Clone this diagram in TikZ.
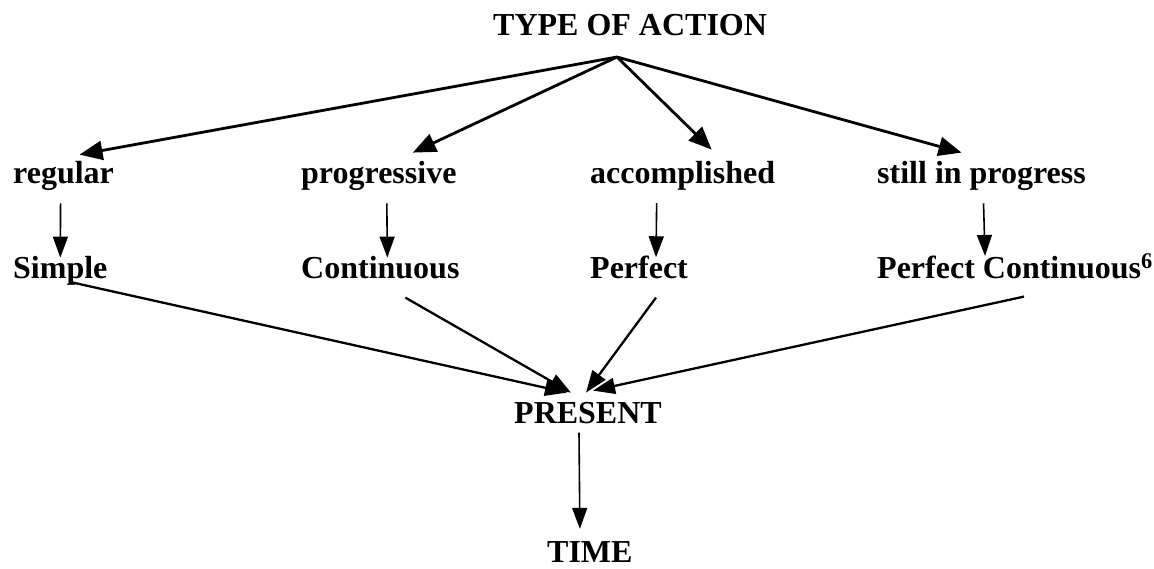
\documentclass[tikz,border=0pt]{standalone}
\usepackage{fontspec}
\setmainfont{Liberation Serif}
\usetikzlibrary{arrows.meta}
\begin{document}
\begin{tikzpicture}[x=1pt,y=-1pt,
  lbl/.style={font=\fontsize{32}{38}\selectfont\bfseries, inner sep=0pt, anchor=base west},
  diag/.style={line width=2.8pt, -{Triangle[length=23pt,width=19pt]}},
  low/.style={line width=2.3pt, -{Triangle[length=22pt,width=16pt]}},
  vline/.style={line width=1.6pt, -{Triangle[length=21pt,width=15pt]}}]
\useasboundingbox (0,0) rectangle (1154,568);
\node[lbl] (top) at (493,35) {TYPE OF ACTION};
\coordinate (apex) at (617,57);
\node[lbl] (regular) at (13,183) {regular};
\node[lbl] (progressive) at (301,183) {progressive};
\node[lbl] (accomplished) at (590,183) {accomplished};
\node[lbl] (still) at (877,183) {still in progress};
\node[lbl] (simple) at (13,278) {Simple};
\node[lbl] (continuous) at (301,278) {Continuous};
\node[lbl] (perfect) at (590,278) {Perfect};
\node[lbl] (perfcont) at (877,278) {Perfect Continuous\textsuperscript{6}};
\node[lbl] (present) at (514,423) {PRESENT};
\node[lbl] (time) at (547,562) {TIME};
% top fan
\draw[diag] (apex) -- ([xshift=16pt,yshift=6pt]regular.north);
\draw[diag] (apex) -- ([xshift=34pt,yshift=8pt]progressive.north);
\draw[diag] (apex) -- ([xshift=29pt,yshift=11pt]accomplished.north);
\draw[diag] (apex) -- ([xshift=-20pt,yshift=8pt]still.north);
% verticals
\draw[vline] ([xshift=-3pt,yshift=-13pt]regular.south) -- ([yshift=-2pt]simple.north);
\draw[vline] ([xshift=8pt,yshift=-13pt]progressive.south) -- ([xshift=7pt,yshift=-2pt]continuous.north);
\draw[vline] ([xshift=-26pt,yshift=-13pt]accomplished.south) -- ([xshift=17pt,yshift=-2pt]perfect.north);
\draw[vline] ([xshift=2pt,yshift=-13pt]still.south) -- ([xshift=-30pt,yshift=-2pt]perfcont.north);
% to present
\draw[low] ([xshift=10pt,yshift=3pt]simple.south) -- ([xshift=-21pt,yshift=9pt]present.north);
\draw[low] ([xshift=25pt,yshift=-19pt]continuous.south) -- ([xshift=-17pt,yshift=9pt]present.north);
\draw[low] ([xshift=17pt,yshift=-19pt]perfect.south) -- ([xshift=-2pt,yshift=9pt]present.north);
\draw[low] ([xshift=9pt,yshift=-18pt]perfcont.south) -- ([xshift=5pt,yshift=11pt]present.north);
% to time
\draw[vline] ([xshift=-9pt,yshift=-9pt]present.south) -- ([xshift=-10pt,yshift=12pt]time.north);
\end{tikzpicture}
\end{document}
